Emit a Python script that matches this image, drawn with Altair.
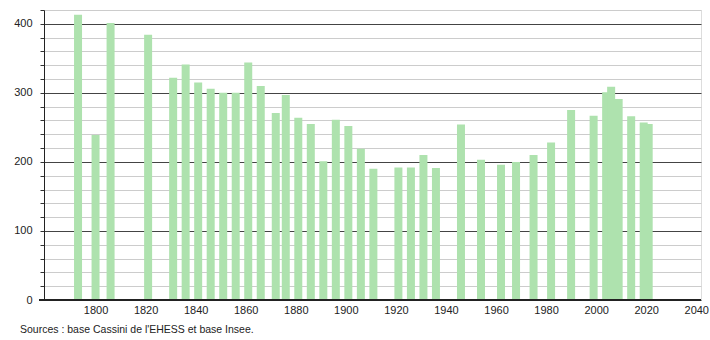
import altair as alt
import pandas as pd

years = [1793, 1800, 1806, 1821, 1831, 1836, 1841, 1846, 1851, 1856, 1861, 1866,
         1872, 1876, 1881, 1886, 1891, 1896, 1901, 1906, 1911, 1921, 1926, 1931,
         1936, 1946, 1954, 1962, 1968, 1975, 1982, 1990, 1999, 2004, 2006, 2009,
         2014, 2019, 2021]
population = [413, 239, 401, 384, 322, 341, 315, 306, 300, 300, 344, 310,
              271, 297, 264, 255, 201, 261, 252, 219, 190, 192, 192, 210,
              191, 254, 203, 196, 200, 210, 228, 275, 267, 301, 309, 291,
              266, 257, 255]
x_ticks = [1800, 1820, 1840, 1860, 1880, 1900, 1920, 1940, 1960, 1980, 2000, 2020, 2040]
y_ticks = list(range(0, 421, 20))
source_text = "Sources : base Cassini de l'EHESS et base Insee."

df = pd.DataFrame({"year": years, "pop": population})

FONT = "Liberation Sans"

bars = alt.Chart(df).mark_bar(size=8, color="#aee2ae").encode(
    x=alt.X("year:Q", scale=alt.Scale(domain=[1779.4, 2041.9], nice=False, zero=False, padding=0),
            axis=alt.Axis(values=x_ticks, title=None, grid=False, tickSize=0,
                          labelPadding=4, labelFont=FONT, labelFontSize=11,
                          labelColor="#222", domain=False, format="d",
                          labelFlush=False)),
    y=alt.Y("pop:Q", scale=alt.Scale(domain=[0, 420], nice=False),
            axis=alt.Axis(values=y_ticks, title=None, tickSize=4, tickColor="#333",
                          labelExpr="datum.value % 100 == 0 ? datum.label : ''",
                          labelPadding=8, labelFont=FONT, labelFontSize=11,
                          labelColor="#222", domainColor="#222",
                          gridColor={"condition": {"test": "datum.value % 100 === 0",
                                                   "value": "#444"},
                                     "value": "#cccccc"},
                          gridWidth=1)),
)

xaxis_line = alt.Chart(df).mark_rule(color="#222").encode(
    x=alt.value(-5), x2=alt.value(657), y=alt.value(290)
)

src = alt.Chart(pd.DataFrame({"t": [source_text]})).mark_text(
    align="left", baseline="middle", font=FONT, fontSize=10.5, color="#222"
).encode(x=alt.value(-24), y=alt.value(320), text="t:N")

chart = alt.layer(bars, xaxis_line, src).properties(
    width=657, height=290,
    padding={"left": 44, "top": 10, "right": 9, "bottom": 40},
    autosize=alt.AutoSizeParams(type="none"),
).configure_view(stroke=None).configure(background="white")

chart.save("out.html", embed_options={"renderer": "svg", "actions": False})
